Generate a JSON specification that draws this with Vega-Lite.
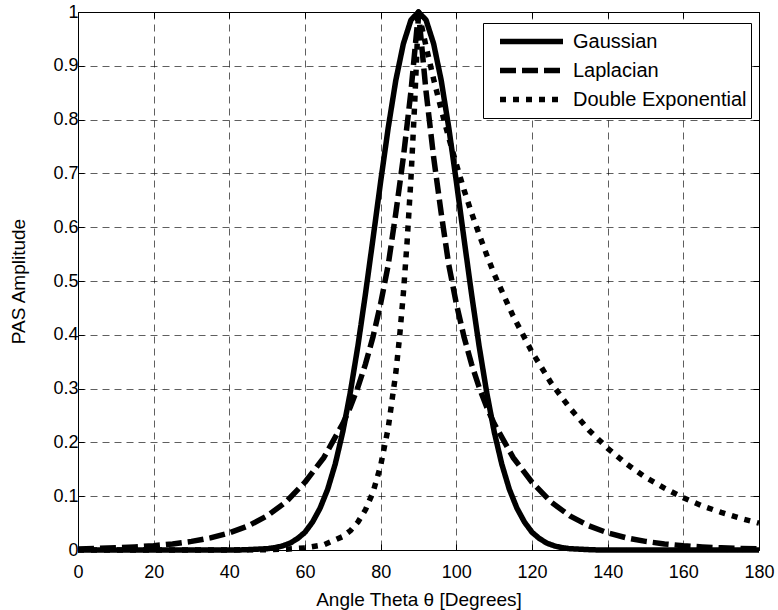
{
  "$schema": "https://vega.github.io/schema/vega-lite/v6.json",
  "width": 681,
  "height": 538,
  "autosize": {"type": "none"},
  "padding": {"left": 78, "top": 12, "right": 19, "bottom": 60},
  "background": "white",
  "config": {
    "view": {"stroke": "black", "strokeWidth": 1},
    "font": "Liberation Sans"
  },
  "data": {
    "values": [
      {"x": 0, "y": 0, "s": "Gaussian"}, {"x": 10, "y": 0, "s": "Gaussian"}, {"x": 20, "y": 0, "s": "Gaussian"}, {"x": 30, "y": 0, "s": "Gaussian"}, {"x": 40, "y": 0, "s": "Gaussian"}, {"x": 44, "y": 0.0003, "s": "Gaussian"}, {"x": 50, "y": 0.0024, "s": "Gaussian"}, {"x": 52, "y": 0.0043, "s": "Gaussian"}, {"x": 54, "y": 0.0074, "s": "Gaussian"}, {"x": 56, "y": 0.0126, "s": "Gaussian"}, {"x": 58, "y": 0.021, "s": "Gaussian"}, {"x": 60, "y": 0.033, "s": "Gaussian"}, {"x": 62, "y": 0.052, "s": "Gaussian"}, {"x": 64, "y": 0.078, "s": "Gaussian"}, {"x": 66, "y": 0.113, "s": "Gaussian"}, {"x": 68, "y": 0.16, "s": "Gaussian"}, {"x": 70, "y": 0.22, "s": "Gaussian"}, {"x": 72, "y": 0.294, "s": "Gaussian"}, {"x": 74, "y": 0.38, "s": "Gaussian"}, {"x": 76, "y": 0.477, "s": "Gaussian"}, {"x": 78, "y": 0.58, "s": "Gaussian"}, {"x": 80, "y": 0.685, "s": "Gaussian"}, {"x": 82, "y": 0.785, "s": "Gaussian"}, {"x": 84, "y": 0.873, "s": "Gaussian"}, {"x": 86, "y": 0.941, "s": "Gaussian"}, {"x": 88, "y": 0.985, "s": "Gaussian"}, {"x": 90, "y": 1, "s": "Gaussian"}, {"x": 92, "y": 0.985, "s": "Gaussian"}, {"x": 94, "y": 0.941, "s": "Gaussian"}, {"x": 96, "y": 0.873, "s": "Gaussian"}, {"x": 98, "y": 0.785, "s": "Gaussian"}, {"x": 100, "y": 0.685, "s": "Gaussian"}, {"x": 102, "y": 0.58, "s": "Gaussian"}, {"x": 104, "y": 0.477, "s": "Gaussian"}, {"x": 106, "y": 0.38, "s": "Gaussian"}, {"x": 108, "y": 0.294, "s": "Gaussian"}, {"x": 110, "y": 0.22, "s": "Gaussian"}, {"x": 112, "y": 0.16, "s": "Gaussian"}, {"x": 114, "y": 0.113, "s": "Gaussian"}, {"x": 116, "y": 0.078, "s": "Gaussian"}, {"x": 118, "y": 0.052, "s": "Gaussian"}, {"x": 120, "y": 0.033, "s": "Gaussian"}, {"x": 122, "y": 0.021, "s": "Gaussian"}, {"x": 124, "y": 0.0126, "s": "Gaussian"}, {"x": 126, "y": 0.0074, "s": "Gaussian"}, {"x": 128, "y": 0.0043, "s": "Gaussian"}, {"x": 130, "y": 0.0024, "s": "Gaussian"}, {"x": 136, "y": 0.0003, "s": "Gaussian"}, {"x": 140, "y": 0, "s": "Gaussian"}, {"x": 150, "y": 0, "s": "Gaussian"}, {"x": 160, "y": 0, "s": "Gaussian"}, {"x": 170, "y": 0, "s": "Gaussian"}, {"x": 180, "y": 0, "s": "Gaussian"},
      {"x": 0, "y": 0.002, "s": "Laplacian"}, {"x": 5, "y": 0.0029, "s": "Laplacian"}, {"x": 10, "y": 0.004, "s": "Laplacian"}, {"x": 15, "y": 0.0057, "s": "Laplacian"}, {"x": 20, "y": 0.008, "s": "Laplacian"}, {"x": 25, "y": 0.0113, "s": "Laplacian"}, {"x": 30, "y": 0.016, "s": "Laplacian"}, {"x": 35, "y": 0.0225, "s": "Laplacian"}, {"x": 40, "y": 0.0318, "s": "Laplacian"}, {"x": 45, "y": 0.0449, "s": "Laplacian"}, {"x": 50, "y": 0.0634, "s": "Laplacian"}, {"x": 55, "y": 0.0895, "s": "Laplacian"}, {"x": 60, "y": 0.126, "s": "Laplacian"}, {"x": 65, "y": 0.172, "s": "Laplacian"}, {"x": 70, "y": 0.235, "s": "Laplacian"}, {"x": 72, "y": 0.266, "s": "Laplacian"}, {"x": 74, "y": 0.303, "s": "Laplacian"}, {"x": 76, "y": 0.346, "s": "Laplacian"}, {"x": 78, "y": 0.397, "s": "Laplacian"}, {"x": 80, "y": 0.458, "s": "Laplacian"}, {"x": 82, "y": 0.53, "s": "Laplacian"}, {"x": 84, "y": 0.626, "s": "Laplacian"}, {"x": 86, "y": 0.73, "s": "Laplacian"}, {"x": 88, "y": 0.852, "s": "Laplacian"}, {"x": 90, "y": 1, "s": "Laplacian"}, {"x": 92, "y": 0.852, "s": "Laplacian"}, {"x": 94, "y": 0.73, "s": "Laplacian"}, {"x": 96, "y": 0.626, "s": "Laplacian"}, {"x": 98, "y": 0.53, "s": "Laplacian"}, {"x": 100, "y": 0.458, "s": "Laplacian"}, {"x": 102, "y": 0.397, "s": "Laplacian"}, {"x": 104, "y": 0.346, "s": "Laplacian"}, {"x": 106, "y": 0.303, "s": "Laplacian"}, {"x": 108, "y": 0.266, "s": "Laplacian"}, {"x": 110, "y": 0.235, "s": "Laplacian"}, {"x": 115, "y": 0.172, "s": "Laplacian"}, {"x": 120, "y": 0.126, "s": "Laplacian"}, {"x": 125, "y": 0.0895, "s": "Laplacian"}, {"x": 130, "y": 0.0634, "s": "Laplacian"}, {"x": 135, "y": 0.0449, "s": "Laplacian"}, {"x": 140, "y": 0.0318, "s": "Laplacian"}, {"x": 145, "y": 0.0225, "s": "Laplacian"}, {"x": 150, "y": 0.016, "s": "Laplacian"}, {"x": 155, "y": 0.0113, "s": "Laplacian"}, {"x": 160, "y": 0.008, "s": "Laplacian"}, {"x": 165, "y": 0.0057, "s": "Laplacian"}, {"x": 170, "y": 0.004, "s": "Laplacian"}, {"x": 175, "y": 0.0029, "s": "Laplacian"}, {"x": 180, "y": 0.002, "s": "Laplacian"},
      {"x": 0, "y": 0, "s": "Double Exponential"}, {"x": 10, "y": 0, "s": "Double Exponential"}, {"x": 20, "y": 0, "s": "Double Exponential"}, {"x": 30, "y": 0, "s": "Double Exponential"}, {"x": 40, "y": 0.0001, "s": "Double Exponential"}, {"x": 50, "y": 0.0006, "s": "Double Exponential"}, {"x": 55, "y": 0.0015, "s": "Double Exponential"}, {"x": 60, "y": 0.0039, "s": "Double Exponential"}, {"x": 65, "y": 0.0098, "s": "Double Exponential"}, {"x": 70, "y": 0.025, "s": "Double Exponential"}, {"x": 72, "y": 0.036, "s": "Double Exponential"}, {"x": 74, "y": 0.052, "s": "Double Exponential"}, {"x": 76, "y": 0.075, "s": "Double Exponential"}, {"x": 78, "y": 0.108, "s": "Double Exponential"}, {"x": 80, "y": 0.157, "s": "Double Exponential"}, {"x": 82, "y": 0.227, "s": "Double Exponential"}, {"x": 84, "y": 0.329, "s": "Double Exponential"}, {"x": 85, "y": 0.396, "s": "Double Exponential"}, {"x": 86, "y": 0.477, "s": "Double Exponential"}, {"x": 87, "y": 0.574, "s": "Double Exponential"}, {"x": 88, "y": 0.69, "s": "Double Exponential"}, {"x": 89, "y": 0.831, "s": "Double Exponential"}, {"x": 90, "y": 1, "s": "Double Exponential"}, {"x": 92, "y": 0.936, "s": "Double Exponential"}, {"x": 94, "y": 0.875, "s": "Double Exponential"}, {"x": 96, "y": 0.819, "s": "Double Exponential"}, {"x": 98, "y": 0.766, "s": "Double Exponential"}, {"x": 100, "y": 0.717, "s": "Double Exponential"}, {"x": 102, "y": 0.67, "s": "Double Exponential"}, {"x": 104, "y": 0.627, "s": "Double Exponential"}, {"x": 106, "y": 0.587, "s": "Double Exponential"}, {"x": 108, "y": 0.549, "s": "Double Exponential"}, {"x": 110, "y": 0.513, "s": "Double Exponential"}, {"x": 115, "y": 0.435, "s": "Double Exponential"}, {"x": 120, "y": 0.368, "s": "Double Exponential"}, {"x": 125, "y": 0.311, "s": "Double Exponential"}, {"x": 130, "y": 0.264, "s": "Double Exponential"}, {"x": 135, "y": 0.223, "s": "Double Exponential"}, {"x": 140, "y": 0.189, "s": "Double Exponential"}, {"x": 145, "y": 0.16, "s": "Double Exponential"}, {"x": 150, "y": 0.135, "s": "Double Exponential"}, {"x": 155, "y": 0.115, "s": "Double Exponential"}, {"x": 160, "y": 0.097, "s": "Double Exponential"}, {"x": 165, "y": 0.082, "s": "Double Exponential"}, {"x": 170, "y": 0.07, "s": "Double Exponential"}, {"x": 175, "y": 0.059, "s": "Double Exponential"}, {"x": 180, "y": 0.05, "s": "Double Exponential"}
    ]
  },
  "layer": [
    {
      "mark": {"type": "line", "color": "black", "strokeWidth": 5.5, "strokeCap": "butt", "strokeJoin": "round"},
      "encoding": {
        "x": {
          "field": "x", "type": "quantitative",
          "scale": {"domain": [0, 180], "nice": false, "zero": false},
          "axis": {
            "values": [0, 20, 40, 60, 80, 100, 120, 140, 160, 180],
            "grid": true, "gridColor": "black", "gridDash": [7, 5], "gridWidth": 0.7, "gridOpacity": 0.9,
            "domain": false, "ticks": true, "tickColor": "black", "tickSize": -6,
            "labelFlush": false, "labelOverlap": false,
            "labelFont": "Liberation Sans", "labelFontSize": 18, "labelColor": "black", "labelPadding": 19,
            "title": "Angle Theta θ [Degrees]", "titleFont": "Liberation Sans", "titleFontSize": 19,
            "titleFontWeight": "normal", "titleColor": "black", "titlePadding": 9
          }
        },
        "y": {
          "field": "y", "type": "quantitative",
          "scale": {"domain": [0, 1], "nice": false},
          "axis": {
            "values": [0, 0.1, 0.2, 0.3, 0.4, 0.5, 0.6, 0.7, 0.8, 0.9, 1],
            "format": ".1~f",
            "grid": true, "gridColor": "black", "gridDash": [7, 5], "gridWidth": 0.7, "gridOpacity": 0.9,
            "domain": false, "ticks": true, "tickColor": "black", "tickSize": -6,
            "labelFlush": false, "labelOverlap": false,
            "labelFont": "Liberation Sans", "labelFontSize": 18, "labelColor": "black", "labelPadding": 6,
            "title": "PAS Amplitude", "titleFont": "Liberation Sans", "titleFontSize": 19,
            "titleFontWeight": "normal", "titleColor": "black", "titlePadding": 24
          }
        },
        "strokeDash": {
          "field": "s", "type": "nominal",
          "scale": {"domain": ["Gaussian", "Laplacian", "Double Exponential"], "range": [[1, 0], [16, 6], [6, 7]]},
          "legend": {
            "title": null, "orient": "none", "legendX": 405, "legendY": 11,
            "fillColor": "white", "strokeColor": "black", "padding": 4, "cornerRadius": 0,
            "symbolType": "stroke", "symbolSize": 3969, "symbolStrokeWidth": 5.5, "symbolStrokeColor": "black",
            "symbolOffset": 10, "labelOffset": 7,
            "labelFont": "Liberation Sans", "labelFontSize": 20, "labelColor": "black",
            "clipHeight": 29, "rowPadding": 0, "labelLimit": 300
          }
        }
      }
    },
    {
      "mark": {"type": "line", "strokeOpacity": 0},
      "encoding": {
        "x": {
          "field": "x", "type": "quantitative",
          "axis": {
            "orient": "top", "values": [0, 20, 40, 60, 80, 100, 120, 140, 160, 180],
            "labels": false, "title": null, "grid": false, "domain": false,
            "ticks": true, "tickColor": "black", "tickSize": -6
          }
        },
        "y": {
          "field": "y", "type": "quantitative",
          "axis": {
            "orient": "right", "values": [0, 0.1, 0.2, 0.3, 0.4, 0.5, 0.6, 0.7, 0.8, 0.9, 1],
            "labels": false, "title": null, "grid": false, "domain": false,
            "ticks": true, "tickColor": "black", "tickSize": -6
          }
        }
      }
    }
  ],
  "resolve": {"axis": {"x": "independent", "y": "independent"}}
}
